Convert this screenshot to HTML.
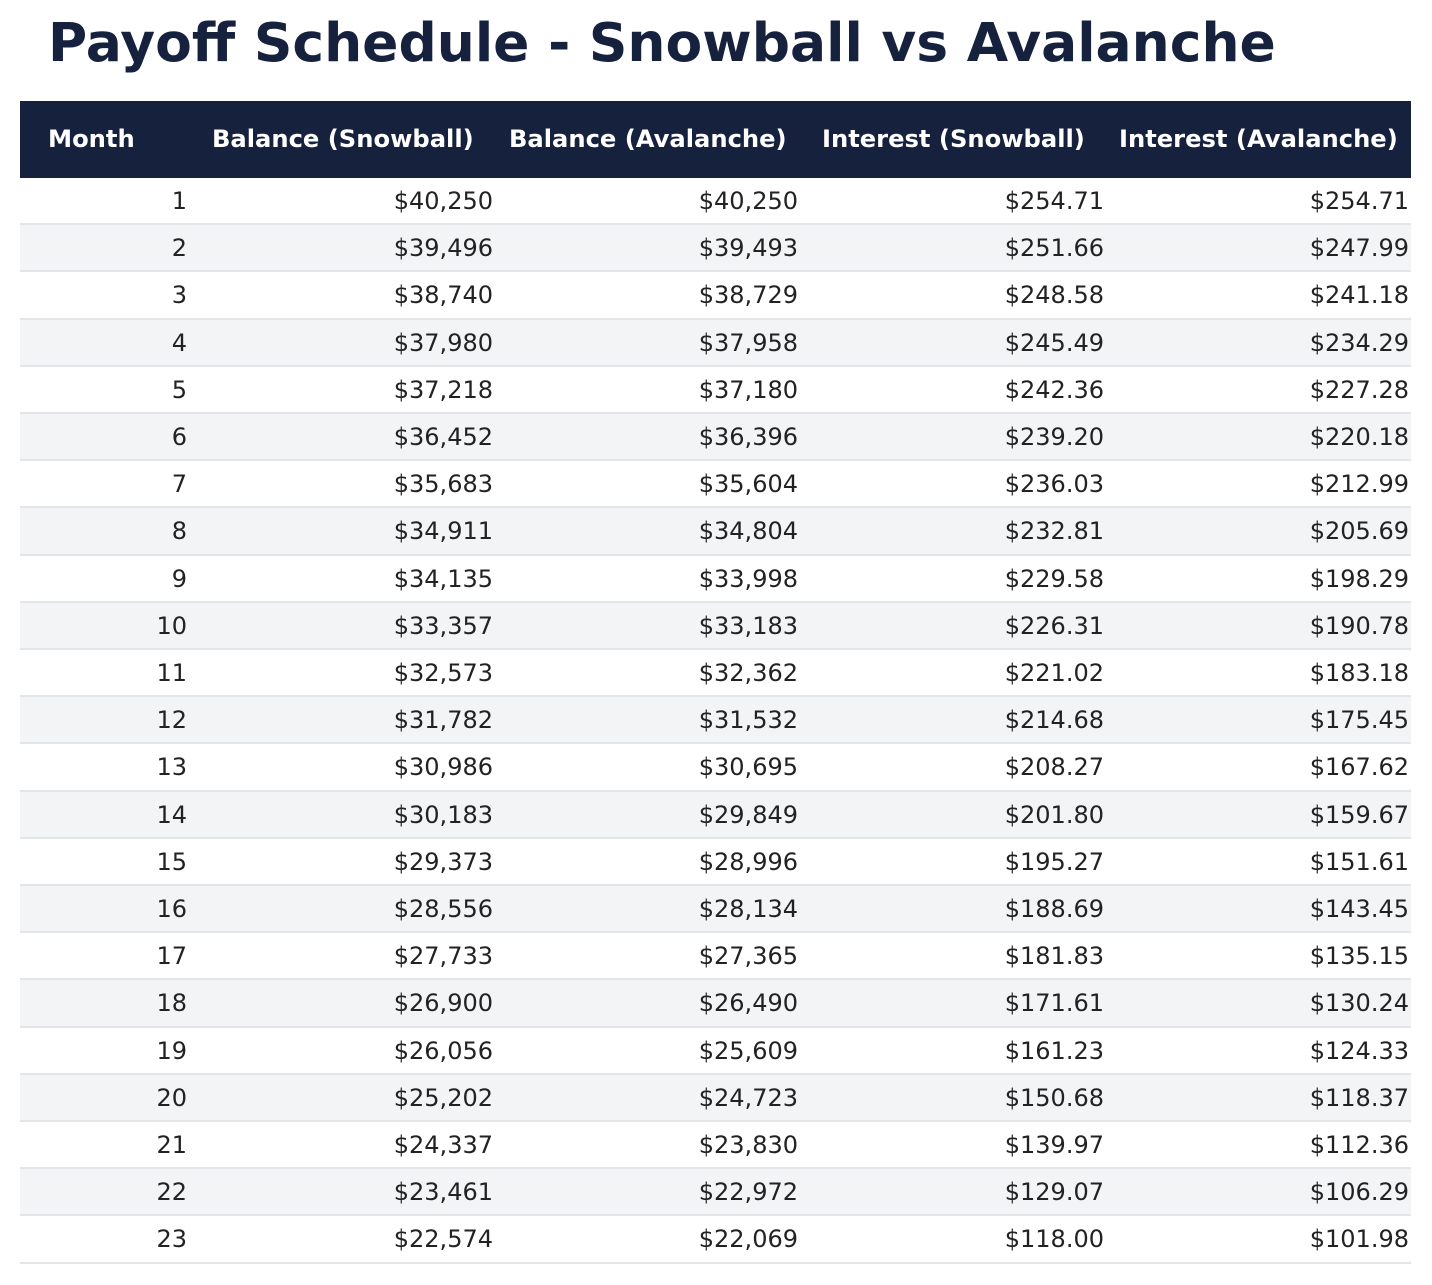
<!DOCTYPE html>
<html><head><meta charset="utf-8"><style>
body{margin:0;width:1432px;height:1285px;background:#fff;font-family:"DejaVu Sans","Liberation Sans",sans-serif;position:relative;overflow:hidden}
.t{position:absolute;left:48px;top:8px;font-size:53.5px;font-weight:bold;color:#16213e;white-space:nowrap;line-height:70px}
.h{position:absolute;left:20px;top:101px;width:1391px;height:77px;background:#16213e;color:#fff;font-weight:bold;font-size:24.2px}
.h span{position:absolute;top:0;line-height:77px;white-space:nowrap}
.r{position:absolute;left:20px;width:1391px;height:47.2px;box-sizing:border-box;border-bottom:2px solid #e3e5e9;font-size:24px;color:#222}
.r.a{background:#f3f4f6}
.r span{position:absolute;top:0;line-height:47px;text-align:right}
</style></head><body>
<div class="t">Payoff Schedule - Snowball vs Avalanche</div>
<div class="h"><span style="left:28px">Month</span><span style="left:192px">Balance (Snowball)</span><span style="left:489px">Balance (Avalanche)</span><span style="left:802px">Interest (Snowball)</span><span style="left:1099px">Interest (Avalanche)</span></div>
<div id="rows"></div>
<script>
var d=[[1,"40,250","40,250","254.71","254.71"],[2,"39,496","39,493","251.66","247.99"],[3,"38,740","38,729","248.58","241.18"],[4,"37,980","37,958","245.49","234.29"],[5,"37,218","37,180","242.36","227.28"],[6,"36,452","36,396","239.20","220.18"],[7,"35,683","35,604","236.03","212.99"],[8,"34,911","34,804","232.81","205.69"],[9,"34,135","33,998","229.58","198.29"],[10,"33,357","33,183","226.31","190.78"],[11,"32,573","32,362","221.02","183.18"],[12,"31,782","31,532","214.68","175.45"],[13,"30,986","30,695","208.27","167.62"],[14,"30,183","29,849","201.80","159.67"],[15,"29,373","28,996","195.27","151.61"],[16,"28,556","28,134","188.69","143.45"],[17,"27,733","27,365","181.83","135.15"],[18,"26,900","26,490","171.61","130.24"],[19,"26,056","25,609","161.23","124.33"],[20,"25,202","24,723","150.68","118.37"],[21,"24,337","23,830","139.97","112.36"],[22,"23,461","22,972","129.07","106.29"],[23,"22,574","22,069","118.00","101.98"]];
var rights=[167,473,778,1084,1389],h="";
d.forEach(function(r,i){h+='<div class="r'+(i%2?' a':'')+'" style="top:'+(178+i*47.2)+'px">';
r.forEach(function(v,j){h+='<span style="right:'+(1391-rights[j])+'px">'+(j?'$':'')+v+'</span>';});h+='</div>';});
document.getElementById('rows').innerHTML=h;
</script>
</body></html>
